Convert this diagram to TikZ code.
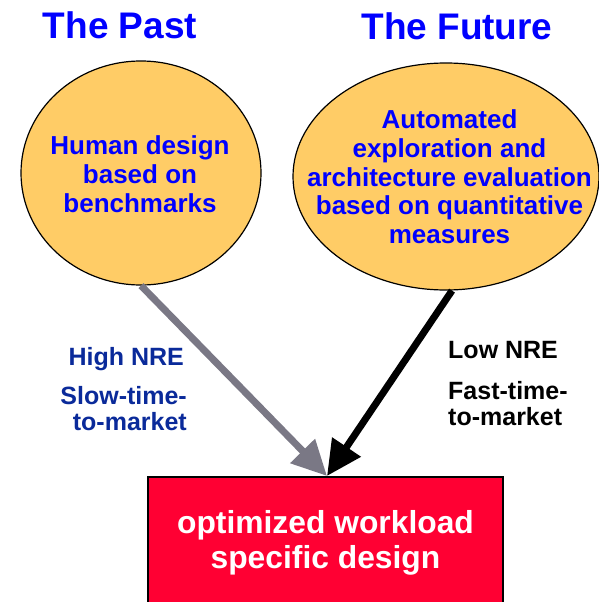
\documentclass[tikz,border=0pt]{standalone}
\usepackage{fontspec}
\setmainfont{Liberation Sans}
\usepackage{tikz}
\usetikzlibrary{shapes.geometric,arrows.meta,positioning}
\definecolor{ovalfill}{HTML}{FFCC66}
\definecolor{titleblue}{HTML}{0000FF}
\definecolor{nreblue}{HTML}{0A2A9A}
\definecolor{arrowgray}{HTML}{7A7885}
\definecolor{boxred}{HTML}{FF0033}
\tikzset{
    titletext/.style = {font=\fontsize{37}{40}\selectfont\bfseries, text=titleblue, inner sep=0pt},
    oval/.style = {ellipse, draw=black, line width=1.2pt, fill=ovalfill, inner sep=0pt},
    ovaltext/.style = {align=center, text=titleblue, inner sep=0pt},
    nretext/.style = {font=\fontsize{25}{26}\selectfont\bfseries, inner sep=0pt},
    flowarrow/.style = {line width=7pt, -{Triangle[length=35pt,width=33pt]}},
    resultbox/.style = {draw=black, line width=2pt, fill=boxred, text=white, align=center,
        font=\fontsize{31.8}{35}\selectfont\bfseries}
}

\begin{document}
\begin{tikzpicture}[x=1pt,y=-1pt]
                \useasboundingbox (0,0) rectangle (598,602);

                % titles
                \node[titletext, anchor=base] (pasttitle) at (120,39) {The Past};
                \node[titletext, anchor=base] (futuretitle) at (457,40) {The Future};

                % ovals
                \node[oval, minimum width=240, minimum height=224] (past) at (141,173) {};
                \node[ovaltext, font=\fontsize{26}{29}\selectfont\bfseries] (pasttext) at (140,174)
                      {Human design\\based on\\benchmarks};
                \node[oval, minimum width=306, minimum height=227] (future) at (446,176.5) {};
                \node[ovaltext, font=\fontsize{26}{28.7}\selectfont\bfseries] (futuretext) at (449.5,177)
                      {Automated\\exploration and\\architecture evaluation\\based on quantitative\\measures};

                % result
                \node[resultbox, minimum width=355, minimum height=131] (design) at (325.5,542.5)
                      {optimized workload\\specific design};
                \coordinate (tip) at (327,476);

                % arrows
                \draw[flowarrow, draw=arrowgray, fill=arrowgray] (past.south) -- (tip);
                \draw[flowarrow, draw=black, fill=black] ([xshift=6]future.south) -- (tip);

                % labels
                \node[nretext, text=nreblue, anchor=base east] (highnre) at (184,365) {High NRE};
                \node[nretext, text=nreblue, anchor=base east, align=right] (slowttm) at (187,430) {Slow-time-\\to-market};
                \node[nretext, anchor=base west] (lownre) at (448,358) {Low NRE};
                \node[nretext, anchor=base west, align=left] (fastttm) at (448,425) {Fast-time-\\to-market};

\end{tikzpicture}
\end{document}
